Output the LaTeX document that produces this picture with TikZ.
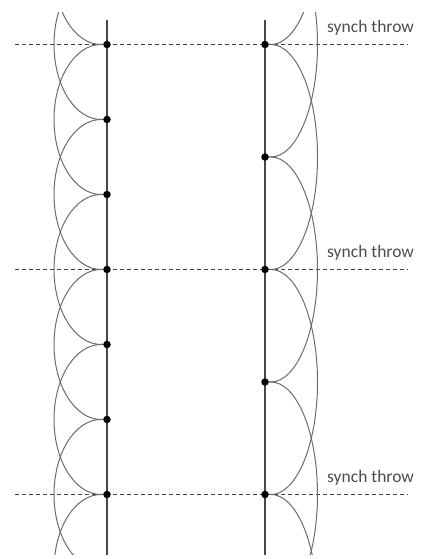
\documentclass[tikz,border=0pt]{standalone}
\usepackage{fontspec}
\setmainfont{Carlito}
\begin{document}
\begin{tikzpicture}[x=1pt,y=1pt,
  ball/.style={circle,fill=black,inner sep=0pt,minimum size=7.5pt},
  hand/.style={draw=black!72,line width=1.2pt},
  path/.style={draw=black!58,line width=1pt},
  synch/.style={draw=black!75,line width=0.8pt,dash pattern=on 4pt off 3pt},
  lbl/.style={anchor=base west,inner sep=0pt,text=black!70,font=\fontsize{17.5}{20}\selectfont}]
\useasboundingbox (0,0) rectangle (420,559);

% left hand: throws every beat (spacing 75)
\foreach \i/\y in {0/664.5,1/589.5,10/-10.5,11/-85.5}
  \coordinate (L\i) at (107,\y);
\foreach \i/\y in {2/514.5,3/439.5,4/364.5,5/289.5,6/214.5,7/139.5,8/64.5}
  \coordinate (L\i) at (107,\y);

% right hand: throws every 1.5 beats (spacing 112.5)
\foreach \i/\y in {0/739.5,1/627,2/514.5,3/402,4/289.5,5/177,6/64.5,7/-48,8/-160.5}
  \coordinate (R\i) at (265,\y);

% synch lines
\foreach \k/\a/\b in {1/L2/R2,2/L5/R4,3/L8/R6}{
  \coordinate (s\k a) at (15,0 |- \a);
  \coordinate (s\k b) at (408,0 |- \b);
  \draw[synch] (s\k a) -- (s\k b);
}

\begin{scope}
\clip (0,4) rectangle (420,546);
% left arcs: each ball lands two beats later
\foreach \i in {0,...,8}
  \draw[path] (L\i) -- ++(-6,0)
    arc[start angle=90,end angle=270,x radius=47,y radius=75] -- ++(6,0);
% right arcs
\foreach \i in {0,...,6}
  \draw[path] (R\i) -- ++(6,0)
    arc[start angle=90,end angle=-90,x radius=46.5,y radius=112.5] -- ++(-6,0);
\end{scope}

% hand timelines
\coordinate (Ltop) at (107,539);
\coordinate (Lbot) at (107,4);
\coordinate (Rtop) at (265,539);
\coordinate (Rbot) at (265,4);
\draw[hand] (Ltop) -- (Lbot);
\draw[hand] (Rtop) -- (Rbot);

% throw events
\foreach \i in {2,...,8}
  \node[ball] (BL\i) at (L\i) {};
\foreach \i in {2,...,6}
  \node[ball] (BR\i) at (R\i) {};

% labels
\node[lbl] (t1) at (327,526) {synch throw};
\node[lbl] (t2) at (327,301.5) {synch throw};
\node[lbl] (t3) at (327,76.5) {synch throw};
\end{tikzpicture}
\end{document}
